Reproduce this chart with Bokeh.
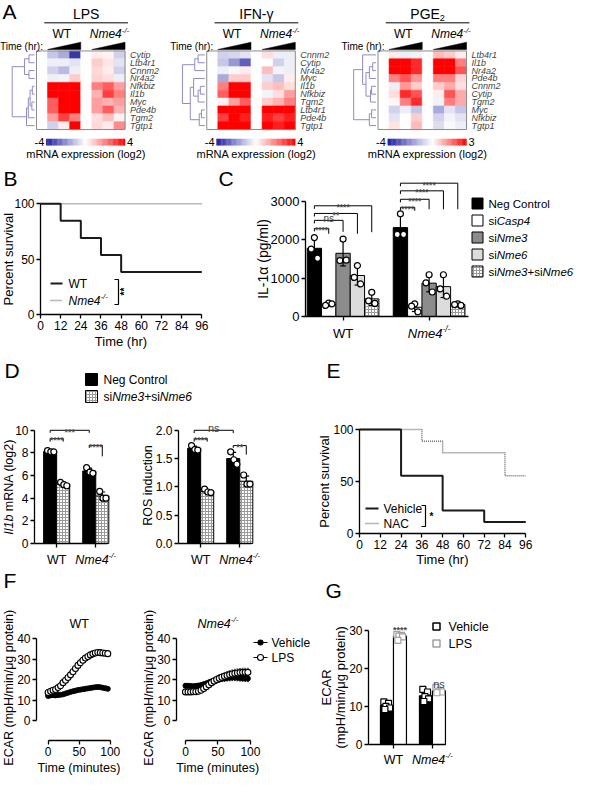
import math
import numpy as np
from bokeh.plotting import figure
from bokeh.models import (Range1d, Label, FixedTicker, ColumnDataSource,
                          NumeralTickFormatter, LinearColorMapper)
from bokeh.layouts import column, row
from bokeh.embed import file_html
from bokeh.resources import INLINE

FONT = "Liberation Sans"

# ---------------------------------------------------------------- data
# Panel A : log2 expression, columns = WT 0h,t1,t2,t3 | Nme4-/- 0h,t1,t2,t3
A_titles = ["LPS", "IFN-γ", "PGE2"]
A_limits = [(-4, 4), (-4, 4), (-4, 3)]
A_genes = [
    ["Cytip", "Ltb4r1", "Cnnm2", "Nr4a2", "Nfkbiz", "Il1b", "Myc", "Pde4b", "Tgm2", "Tgtp1"],
    ["Cnnm2", "Cytip", "Nr4a2", "Myc", "Il1b", "Nfkbiz", "Tgm2", "Ltb4r1", "Pde4b", "Tgtp1"],
    ["Ltb4r1", "Il1b", "Nr4a2", "Pde4b", "Cnnm2", "Cytip", "Tgm2", "Myc", "Nfkbiz", "Tgtp1"],
]
lps_expr = [
    [0, -1.0, -1.5, -3.5, 0, 0.3, 0.2, -0.8],
    [0, -0.3, -0.3, -0.5, 0, 0.8, 0.4, -0.5],
    [0, -0.8, -1.2, -0.3, 0, 0.6, 0.3, -0.8],
    [0, -0.3, -0.2, 0.8, 0, 0.7, 0.5, -0.3],
    [0, 4.0, 4.0, 4.0, 0, 2.0, 2.5, 1.5],
    [0, 4.0, 4.0, 4.0, 0, 1.2, 3.0, 2.0],
    [0, 2.5, 4.0, 4.0, 0, 1.5, 1.2, 1.5],
    [0, 2.5, 4.0, 4.0, 0, 1.5, 2.5, 1.2],
    [0, 1.5, 3.0, 2.0, 0, 0.5, 1.0, 0.2],
    [0, -0.8, 0.3, 4.0, 0, 0.6, 0.3, 1.8],
]
ifn_expr = [
    [0, -0.8, -0.7, -0.5, 0, 0.5, -0.3, -0.3],
    [0, -1.0, -1.8, -2.8, 0, 0.0, -0.8, -0.3],
    [0, -0.3, -0.1, 0.3, 0, 1.0, -0.2, -0.3],
    [0, -1.5, 0.8, 0.8, 0, -0.5, -1.0, 0.3],
    [0, 2.0, 4.0, 4.0, 0, 0.8, 1.0, 0.5],
    [0, 2.5, 4.0, 4.0, 0, -0.2, 0.5, 1.5],
    [0, 0.2, 1.5, 2.5, 0, 0.8, 1.2, 2.0],
    [0, 4.0, 4.0, 4.0, 0, 4.0, 4.0, 4.0],
    [0, 3.0, 4.0, 3.5, 0, 3.5, 3.0, 3.5],
    [0, 4.0, 4.0, 4.0, 0, 4.0, 3.5, 4.0],
]
pge_expr = [
    [0, 0.2, -0.3, -0.2, 0, 0.8, 0.6, 0.2],
    [0, 3.0, 3.0, 2.5, 0, 3.0, 3.0, 1.5],
    [0, 3.0, 3.0, 2.5, 0, 3.0, 3.0, 2.0],
    [0, 1.5, 2.0, 1.2, 0, 1.5, 1.5, 0.5],
    [0, -0.3, 1.2, 0.6, 0, 0.6, 1.0, 0.4],
    [0, 0.4, 2.5, 2.0, 0, 0.2, 2.0, 1.0],
    [0, 0.1, 1.5, 2.5, 0, -0.2, 1.5, 1.0],
    [0, -0.8, -0.3, -1.0, 0, -1.5, -0.5, -1.0],
    [0, -0.5, 0.0, 0.6, 0, -0.8, -0.2, -0.5],
    [0, 0.3, 0.0, 0.8, 0, -0.6, -0.1, -0.3],
]
A_expr = [lps_expr, ifn_expr, pge_expr]
# dendrogram merges (left id, right id, relative height); ids >= 10 are clusters
A_link = [
    [(0, 1, 0.25), (2, 3, 0.25), (10, 11, 0.45), (4, 5, 0.10), (6, 7, 0.12),
     (13, 14, 0.20), (15, 8, 0.28), (16, 9, 0.36), (12, 17, 1.0)],
    [(0, 1, 0.30), (10, 2, 0.45), (4, 5, 0.20), (12, 6, 0.30), (3, 13, 0.50),
     (7, 8, 0.15), (15, 9, 0.25), (14, 16, 0.65), (11, 17, 1.0)],
    [(1, 2, 0.15), (10, 3, 0.30), (4, 5, 0.20), (12, 6, 0.25), (11, 13, 0.45),
     (0, 14, 0.60), (7, 8, 0.20), (16, 9, 0.30), (15, 17, 1.0)],
]

# Panel B : survival (%)
b_wt_time = [0, 12, 24, 36, 48, 96]
b_wt_surv = [100, 84.6, 69.2, 53.8, 38.5, 38.5]
b_ko_time = [0, 96]
b_ko_surv = [100, 100]

# Panel C : IL-1a (pg/ml)
c_labels = ["Neg Control", "siCasp4", "siNme3", "siNme6", "siNme3+siNme6"]
c_mean_wt = [1780, 320, 1650, 1070, 460]
c_sd_wt = [290, 50, 330, 250, 170]
c_pts_wt = [[2060, 1760, 1520], [350, 290, 330], [2020, 1460, 1470], [1330, 1020, 850], [630, 410, 340]]
c_mean_ko = [2320, 240, 870, 780, 310]
c_sd_ko = [330, 110, 225, 285, 30]
c_pts_ko = [[2680, 2140, 2140], [330, 270, 120], [1090, 880, 640], [1090, 720, 530], [330, 310, 290]]
# (left bar, right bar, level, left end, right end, label)
c_sig = [
    (0, 1, 2300, 2220, 2160, "****"), (0, 2, 2510, 2430, 2210, "ns"),
    (0, 3, 2690, 2610, 2160, "**"), (0, 4, 2890, 2810, 2200, "****"),
    (6, 7, 2850, 2770, 2760, "****"), (6, 8, 3060, 2980, 2800, "****"),
    (6, 9, 3280, 3200, 2800, "****"), (6, 10, 3480, 3400, 2800, "****"),
]

# Panel D : Il1b mRNA (log2) and ROS induction
d1_mean = [8.13, 5.23, 6.40, 4.20]
d1_sd = [0.06, 0.15, 0.26, 0.35]
d1_pts = [[8.2, 8.1, 8.1], [5.4, 5.2, 5.1], [6.7, 6.3, 6.2], [4.6, 4.0, 4.0]]
d1_sig = [(0, 1, 9.26, 9.0, 9.0, "****"), (0, 3, 10.0, 9.78, 9.78, "***"), (3, 4, 8.67, 8.45, 7.7, "****")]
d2_mean = [1.68, 0.92, 1.50, 1.10]
d2_sd = [0.04, 0.03, 0.11, 0.09]
d2_pts = [[1.73, 1.66, 1.65], [0.96, 0.91, 0.90], [1.62, 1.48, 1.40], [1.21, 1.05, 1.05]]
d2_sig = [(0, 1, 1.85, 1.80, 1.80, "****"), (0, 3, 2.0, 1.95, 1.95, "ns"), (3, 4, 1.73, 1.69, 1.57, "**")]

# Panel E : survival (%)
e_veh_time = [0, 24, 48, 72, 96]
e_veh_surv = [100, 55.6, 22.2, 11.1, 11.1]
e_nac_time = [0, 36, 48, 84, 96]
e_nac_surv = [100, 88.9, 77.8, 55.6, 55.6]

# Panel F : ECAR time course
f_time = [0, 4, 8, 12, 16, 20, 24, 28, 32, 36, 40, 44, 48, 52, 56, 60, 64, 68, 72, 76, 80, 84, 88, 92, 96]
f_wt_veh = [12.0, 12.3, 12.4, 12.3, 12.5, 12.6, 12.8, 13.2, 13.6, 14.0, 14.3, 14.6, 14.9, 15.1, 15.3,
            15.5, 15.7, 15.9, 16.1, 16.3, 16.4, 16.3, 16.0, 15.8, 15.5]
f_wt_veh_sd = [0.5, 0.4, 0.4, 0.4, 0.4, 0.4, 0.4, 0.4, 0.5, 0.5, 0.5, 0.5, 0.5, 0.5, 0.5,
               0.5, 0.5, 0.5, 0.5, 0.5, 0.5, 0.5, 0.5, 0.5, 0.5]
f_wt_lps = [13.7, 14.3, 14.8, 15.2, 16.1, 17.0, 18.5, 19.7, 21.0, 22.3, 23.8, 25.4, 26.9, 28.2, 29.4,
            30.5, 31.2, 32.0, 32.5, 32.9, 33.2, 33.1, 32.9, 32.8, 32.6]
f_wt_lps_sd = [0.6, 0.6, 0.6, 0.6, 0.6, 0.7, 0.7, 0.8, 0.8, 0.8, 0.9, 0.9, 0.9, 0.9, 0.9,
               0.9, 0.9, 0.9, 0.9, 0.9, 0.9, 0.9, 0.9, 0.9, 0.9]
f_ko_veh = [17.0, 17.0, 16.9, 16.8, 16.9, 17.1, 17.3, 17.7, 18.1, 18.6, 19.0, 19.4, 19.8, 20.1, 20.4,
            20.6, 20.8, 20.9, 21.0, 21.0, 20.9, 20.8, 20.7, 20.6, 20.5]
f_ko_veh_sd = [0.8, 0.8, 0.8, 0.9, 0.9, 1.0, 1.0, 1.1, 1.2, 1.2, 1.3, 1.3, 1.4, 1.4, 1.4,
               1.5, 1.5, 1.5, 1.5, 1.5, 1.5, 1.5, 1.5, 1.5, 1.5]
f_ko_lps = [14.0, 14.0, 14.0, 14.1, 14.1, 14.3, 14.8, 15.6, 16.5, 17.5, 18.5, 19.3, 20.0, 20.6, 21.1,
            21.6, 22.0, 22.4, 22.7, 23.0, 23.2, 23.4, 23.5, 23.5, 23.5]
f_ko_lps_sd = [0.8, 0.8, 0.9, 0.9, 1.0, 1.0, 1.1, 1.2, 1.3, 1.4, 1.5, 1.6, 1.7, 1.8, 1.8,
               1.9, 1.9, 2.0, 2.0, 2.0, 2.0, 2.0, 2.0, 2.0, 2.0]

# Panel G : ECAR bars (WT vehicle, WT LPS, Nme4 vehicle, Nme4 LPS)
g_mean = [10.2, 28.5, 12.8, 14.1]
g_sd = [0.8, 0.6, 1.2, 0.5]
g_pts = [[11.2, 10.8, 10.0, 9.6, 9.2], [28.9, 28.7, 28.5, 28.3, 27.4],
         [14.5, 13.8, 12.6, 12.0, 11.3], [15.0, 14.2, 14.0, 13.8, 13.6]]

# ---------------------------------------------------------------- helpers
AW = {' ': 278, '!': 278, '(': 333, ')': 333, '*': 389, '+': 584, ',': 278, '-': 333, '.': 278,
      '/': 278, ':': 278, 'A': 667, 'B': 667, 'C': 722, 'D': 722, 'E': 667, 'F': 611, 'G': 778,
      'H': 722, 'I': 278, 'L': 556, 'M': 833, 'N': 722, 'P': 667, 'R': 722, 'S': 667, 'T': 611,
      'W': 944, 'Y': 667, 'a': 556, 'b': 556, 'c': 500, 'd': 556, 'e': 556, 'f': 278, 'g': 556,
      'h': 556, 'i': 222, 'j': 222, 'k': 500, 'l': 222, 'm': 833, 'n': 556, 'o': 556, 'p': 556,
      'q': 556, 'r': 333, 's': 500, 't': 278, 'u': 556, 'v': 500, 'w': 722, 'x': 500, 'y': 500,
      'z': 500, 'μ': 576, 'γ': 500, 'α': 578}


def tw(s, size):
    return sum(AW.get(ch, 556) for ch in s) * size / 1000.0


class Fig:
    """Figure whose frame covers the whole canvas; (l, r, t, b) describe the
    plotting area that (xr, yr) map onto. Axes are fixed at the edges of that
    area so that every text lies inside the frame."""

    def __init__(self, w, h, l, r, t, b, xr, yr, axes=True):
        self.w, self.h, self.l, self.r, self.t, self.b = w, h, l, r, t, b
        self.xr, self.yr = xr, yr
        self.fw = w - l - r
        self.fh = h - t - b
        ux = (xr[1] - xr[0]) / self.fw
        uy = (yr[1] - yr[0]) / self.fh
        X = (xr[0] - l * ux, xr[1] + r * ux)
        Y = (yr[0] - b * uy, yr[1] + t * uy)
        kw = dict(width=w, height=h, min_border=0, min_border_left=0, min_border_right=0,
                  min_border_top=0, min_border_bottom=0,
                  x_range=Range1d(*X), y_range=Range1d(*Y),
                  output_backend="svg", toolbar_location=None)
        if not axes:
            kw.update(x_axis_type=None, y_axis_type=None)
        p = figure(**kw)
        p.outline_line_color = None
        p.background_fill_color = "white"
        p.border_fill_color = "white"
        if axes:
            p.xgrid.visible = False
            p.ygrid.visible = False
            p.xaxis.fixed_location = yr[0]
            p.yaxis.fixed_location = xr[0]
        self.p = p

    def d(self, cx, cy):
        x = self.xr[0] + (cx - self.l) / self.fw * (self.xr[1] - self.xr[0])
        y = self.yr[1] - (cy - self.t) / self.fh * (self.yr[1] - self.yr[0])
        return x, y

    def cx(self, x):
        return self.l + (x - self.xr[0]) / (self.xr[1] - self.xr[0]) * self.fw

    def cy(self, y):
        return self.t + (self.yr[1] - y) / (self.yr[1] - self.yr[0]) * self.fh

    def dy(self, px):
        return px / self.fh * abs(self.yr[1] - self.yr[0])


def rich(F, cx, cy, segs, size, align="left", vertical=False, color="black"):
    items = []
    for seg in segs:
        text = seg[0]
        st = seg[1] if len(seg) > 1 else ""
        small = ("sup" in st) or ("sub" in st)
        fs = size * 0.65 if small else size
        rise = size * 0.36 if "sup" in st else (-size * 0.28 if "sub" in st else 0.0)
        style = "italic" if st.startswith("i") else "normal"
        if "B" in st:
            style = "bold"
        items.append((text, fs, rise, style, tw(text, fs)))
    total = sum(it[4] for it in items)
    off = {"left": 0.0, "center": -total / 2.0, "right": -total}[align]
    for text, fs, rise, style, w in items:
        lead = len(text) - len(text.lstrip(" "))
        shift = tw(" " * lead, fs)
        body = text.strip(" ")
        o = off + shift
        if vertical:
            px, py, ang = cx - rise, cy - o, math.pi / 2
        else:
            px, py, ang = cx + o, cy - rise, 0.0
        x, y = F.d(px, py)
        F.p.add_layout(Label(x=x, y=y, text=body, text_font=FONT, text_font_size=f"{fs:.1f}px",
                             text_font_style=style, text_color=color, text_align="left",
                             text_baseline="middle", angle=ang))
        off += w


def style_axes(F, xticks, yticks, xb=None, yb=None, lab=12):
    p = F.p
    for ax in list(p.xaxis) + list(p.yaxis):
        ax.axis_line_color = "black"
        ax.axis_line_width = 1.3
        ax.major_tick_line_color = "black"
        ax.major_tick_line_width = 1.3
        ax.major_tick_out = 4
        ax.major_tick_in = 0
        ax.minor_tick_line_color = None
        ax.major_label_text_font = FONT
        ax.major_label_text_font_size = f"{lab}px"
        ax.major_label_text_color = "black"
        ax.major_label_standoff = 2
    p.xaxis.ticker = FixedTicker(ticks=xticks)
    p.yaxis.ticker = FixedTicker(ticks=yticks)
    if xb is not None:
        p.xaxis.bounds = xb
    if yb is not None:
        p.yaxis.bounds = yb


def letter(F, cx, cy, s):
    rich(F, cx, cy, [(s, "")], 21)


def brackets(F, sig, size_star=8.5, size_ns=10):
    p = F.p
    for x1, x2, lev, e1, e2, lab in sig:
        p.line([x1, x1, x2, x2], [e1, lev, lev, e2], color="black", line_width=1)
        if lab.startswith("*"):
            p.add_layout(Label(x=(x1 + x2) / 2, y=lev - F.dy(1.5), text=lab, text_font=FONT,
                               text_font_size=f"{size_star}px", text_font_style="bold",
                               text_align="center", text_baseline="alphabetic"))
        else:
            p.add_layout(Label(x=(x1 + x2) / 2, y=lev + F.dy(2), text=lab, text_font=FONT,
                               text_font_size=f"{size_ns}px", text_align="center",
                               text_baseline="alphabetic"))


def errbars(p, xs, means, sds, cap, color="black", width=1.2):
    x0, y0, x1, y1 = [], [], [], []
    for x, m, s in zip(xs, means, sds):
        x0 += [x, x - cap, x - cap]
        x1 += [x, x + cap, x + cap]
        y0 += [m - s, m + s, m - s]
        y1 += [m + s, m + s, m - s]
    p.segment(x0, y0, x1, y1, color=color, line_width=width)


def make_palette(lo, hi, n=256):
    cols = []
    for i in range(n):
        v = lo + (hi - lo) * i / (n - 1)
        if v < 0:
            t = min(1.0, v / lo)
            r = int(255 - t * (255 - 28)); g = int(255 - t * (255 - 28)); b = int(255 - t * (255 - 160))
        else:
            t = min(1.0, v / hi)
            r = 255; g = int(255 * (1 - t)); b = int(255 * (1 - t))
        cols.append("#%02x%02x%02x" % (r, g, b))
    return cols


NME4 = [("Nme4", "i"), ("-/-", "isup")]

# ---------------------------------------------------------------- Panel A
FA = Fig(575, 163, 0, 0, 0, 0, (0, 591), (168, 0), axes=False)
pa = FA.p
SX, SY = 575 / 591, 163 / 168


def ac(x, y):
    return x * SX, y * SY


HX0, HW, HY0, RH = 37, 91, 52, 8.1
CW = HW / 8
A_OFF = [0, 175, 351]
for k in range(3):
    ox = A_OFF[k]
    lo, hi = A_limits[k]
    mapper = LinearColorMapper(palette=make_palette(lo, hi), low=lo, high=hi)
    expr = A_expr[k]
    xs, ys, vs = [], [], []
    for r_ in range(10):
        for c_ in range(8):
            xs.append(ox + HX0 + (c_ + 0.5) * CW)
            ys.append(HY0 + (r_ + 0.5) * RH)
            vs.append(expr[r_][c_])
    src = ColumnDataSource(dict(x=xs, y=ys, v=vs))
    pa.rect("x", "y", width=CW, height=RH, source=src,
            fill_color={"field": "v", "transform": mapper},
            line_color={"field": "v", "transform": mapper}, line_width=0.6)
    pa.rect(x=ox + HX0 + HW / 2, y=HY0 + 5 * RH, width=HW, height=10 * RH,
            fill_color=None, line_color="#8c8c8c", line_width=1)
    for r_, g in enumerate(A_genes[k]):
        pa.add_layout(Label(x=ox + 133, y=HY0 + (r_ + 0.5) * RH, text=g, text_font=FONT,
                            text_font_size="9px", text_font_style="italic",
                            text_align="left", text_baseline="middle"))
    # dendrogram
    pos = {i: (ox + 35, HY0 + (i + 0.5) * RH) for i in range(10)}
    x0s, y0s, x1s, y1s = [], [], [], []
    nid = 10
    for a, b, h in A_link[k]:
        xh = ox + 35 - h * (35 - 12)
        xa, ya = pos[a]
        xb, yb = pos[b]
        x0s += [xa, xb, xh]; y0s += [ya, yb, ya]
        x1s += [xh, xh, xh]; y1s += [ya, yb, yb]
        pos[nid] = (xh, (ya + yb) / 2)
        nid += 1
    pa.segment(x0s, y0s, x1s, y1s, color="#8f8bc8", line_width=1)
    # time ramps
    tx, ty = [], []
    for g0 in (1, 5):
        xl = ox + HX0 + g0 * CW
        xr_ = ox + HX0 + (g0 + 3) * CW
        tx.append([xl, xr_, xr_]); ty.append([50.5, 50.5, 43])
    pa.patches(tx, ty, fill_color="black", line_color="black", line_width=0.5)
    # colour bar
    n = 64
    cbx = [ox + 47 + (i + 0.5) * 81 / n for i in range(n)]
    cbv = [lo + (hi - lo) * (i + 0.5) / n for i in range(n)]
    cbsrc = ColumnDataSource(dict(x=cbx, y=[146] * n, v=cbv))
    pa.rect("x", "y", width=81 / n + 0.3, height=7, source=cbsrc,
            fill_color={"field": "v", "transform": mapper}, line_color=None)
    title = [("PGE", ""), ("2", "sub")] if k == 2 else [(A_titles[k], "")]
    rich(FA, *ac(ox + 88, 14), title, 14, align="center")
    pa.segment(ox + 45, 23, ox + 131, 23, color="black", line_width=1)
    rich(FA, *ac(ox + 63, 35), [("WT", "")], 12, align="center")
    rich(FA, *ac(ox + 112, 35), NME4, 12, align="center")
    rich(FA, *ac(ox + 44, 47), [("Time (hr):", "")], 10, align="right")
    rich(FA, *ac(ox + 45, 146), [("-4", "")], 11, align="right")
    rich(FA, *ac(ox + 130, 146), [(str(hi), "")], 11, align="left")
    rich(FA, *ac(ox + 88, 158), [("mRNA expression (log2)", "")], 11, align="center")
letter(FA, 2, 11, "A")

# ---------------------------------------------------------------- Panel B
FB = Fig(210, 187, 40, 7, 37, 36, (0, 97), (0, 103))
pb = FB.p
style_axes(FB, [0, 12, 24, 36, 48, 60, 72, 84, 96], [0, 50, 100], xb=(0, 96), yb=(0, 100))
pb.line(b_ko_time, b_ko_surv, color="#707070", line_width=1.5, line_dash="1 1")
pb.step(b_wt_time, b_wt_surv, mode="after", color="#1a1a1a", line_width=2)
letter(FB, 3, 15, "B")
rich(FB, 8, FB.cy(50), [("Percent survival", "")], 13, align="center", vertical=True)
rich(FB, FB.cx(48), 178, [("Time (hr)", "")], 13, align="center")
for yy, dash, lab in [(120, "solid", [("WT", "")]), (137, "1 1", NME4)]:
    xa, ya = FB.d(50, yy)
    xb_, _ = FB.d(62, yy)
    pb.line([xa, xb_], [ya, ya], color="#1a1a1a" if dash == "solid" else "#707070",
            line_width=2 if dash == "solid" else 1.5, line_dash=dash)
    rich(FB, 68, yy, lab, 12)
bxy = [FB.d(114, 116), FB.d(118, 116), FB.d(118, 141), FB.d(114, 141)]
pb.line([q[0] for q in bxy], [q[1] for q in bxy], color="black", line_width=1.2)
rich(FB, 124, 128, [("**", "B")], 10, align="center", vertical=True)

# ---------------------------------------------------------------- Panel C
FC = Fig(365, 187, 95, 2, 17, 34, (-0.62, 18.07), (0, 3550))
pc = FC.p
style_axes(FC, [2, 8], [0, 1000, 2000, 3000], xb=(-0.62, 10.75), yb=(0, 3000), lab=13)
pc.xaxis.major_label_overrides = {2: "", 8: ""}
c_fill = ["black", "white", "#8c8c8c", "#dcdcdc", "white"]
for i in range(5):
    xs = [i, 6 + i]
    tops = [c_mean_wt[i], c_mean_ko[i]]
    if i == 4:
        pc.vbar(x=xs, top=tops, width=1, fill_color="white", line_color="black", line_width=1,
                hatch_pattern="+", hatch_color="#9a9a9a", hatch_scale=3, hatch_weight=1)
    else:
        pc.vbar(x=xs, top=tops, width=1, fill_color=c_fill[i], line_color="black", line_width=1)
bar_x = [0, 1, 2, 3, 4, 6, 7, 8, 9, 10]
errbars(pc, bar_x, c_mean_wt + c_mean_ko, c_sd_wt + c_sd_ko, 0.2)
jit = [0.0, -0.22, 0.22]
px_, py_ = [], []
for bx_, pts in zip(bar_x, c_pts_wt + c_pts_ko):
    for j, v in enumerate(pts):
        px_.append(bx_ + jit[j]); py_.append(v)
pc.scatter(px_, py_, marker="circle", size=6, fill_color="white", line_color="black", line_width=1.2)
brackets(FC, c_sig, size_star=8.5, size_ns=10)
letter(FC, 8, 15, "C")
rich(FC, 52, FC.cy(1500), [("IL-1α (pg/ml)", "")], 14, align="center", vertical=True)
for gx, lab in [(2, [("WT", "")]), (8, NME4)]:
    rich(FC, FC.cx(gx), 170, lab, 13, align="center")
for i in range(5):
    x, y = FC.d(267, 40 + 17 * i)
    if i == 4:
        pc.scatter([x], [y], marker="square", size=11, fill_color="white", line_color="black",
                   hatch_pattern="+", hatch_color="#9a9a9a", hatch_scale=3)
    else:
        pc.scatter([x], [y], marker="square", size=11, fill_color=c_fill[i], line_color="black")
segs_c = [[("Neg Control", "")], [("si", ""), ("Casp4", "i")], [("si", ""), ("Nme3", "i")],
          [("si", ""), ("Nme6", "i")], [("si", ""), ("Nme3", "i"), ("+si", ""), ("Nme6", "i")]]
for i, sg in enumerate(segs_c):
    rich(FC, 278, 40 + 17 * i, sg, 11.5)

# ---------------------------------------------------------------- Panel D
FDt = Fig(290, 66, 0, 0, 0, 0, (0, 290), (66, 0), axes=False)
pdt = FDt.p
letter(FDt, 4, 20, "D")
pdt.scatter([91], [29], marker="square", size=12, fill_color="black", line_color="black")
pdt.scatter([91], [46], marker="square", size=12, fill_color="white", line_color="black",
            hatch_pattern="+", hatch_color="#9a9a9a", hatch_scale=3)
rich(FDt, 103, 29, [("Neg Control", "")], 12)
rich(FDt, 103, 46, [("si", ""), ("Nme3", "i"), ("+si", ""), ("Nme6", "i")], 12)


def dpanel(F, mean, sd, pts, sig, yticks, ybound):
    p = F.p
    style_axes(F, [0.5, 3.5], yticks, xb=(-1.2, 4.4), yb=ybound)
    p.xaxis.major_label_overrides = {0.5: "", 3.5: ""}
    p.vbar(x=[0, 3], top=[mean[0], mean[2]], width=1, fill_color="black", line_color="black")
    p.vbar(x=[1, 4], top=[mean[1], mean[3]], width=1, fill_color="white", line_color="black",
           hatch_pattern="+", hatch_color="#9a9a9a", hatch_scale=3)
    errbars(p, [0, 1, 3, 4], mean, sd, 0.22)
    xs, ys = [], []
    for bx_, pp in zip([0, 1, 3, 4], pts):
        for j, v in enumerate(pp):
            xs.append(bx_ + [-0.2, 0.05, 0.28][j]); ys.append(v)
    p.scatter(xs, ys, marker="circle", size=6, fill_color="white", line_color="black", line_width=1.2)
    brackets(F, sig, size_star=9, size_ns=11)
    for gx, lab in [(0.5, [("WT", "")]), (3.5, NME4)]:
        rich(F, F.cx(gx), 143, lab, 12.5, align="center")


FD1 = Fig(140, 152, 34, 33, 7, 25, (-1.2, 4.4), (0, 10.6))
dpanel(FD1, d1_mean, d1_sd, d1_pts, d1_sig, [0, 2, 4, 6, 8, 10], (0, 10))
rich(FD1, 8, FD1.cy(5), [("Il1b", "i"), (" mRNA (log2)", "")], 12.5, align="center", vertical=True)

FD2 = Fig(150, 152, 38, 39, 7, 25, (-1.2, 4.4), (0, 2.12))
dpanel(FD2, d2_mean, d2_sd, d2_pts, d2_sig, [0, 0.5, 1.0, 1.5, 2.0], (0, 2.0))
FD2.p.yaxis.formatter = NumeralTickFormatter(format="0.0")
rich(FD2, 7, FD2.cy(1.0), [("ROS induction", "")], 12.5, align="center", vertical=True)

# ---------------------------------------------------------------- Panel E
FE = Fig(285, 218, 69, 48, 76, 35, (0, 97), (0, 103))
pe = FE.p
style_axes(FE, [0, 12, 24, 36, 48, 60, 72, 84, 96], [0, 50, 100], xb=(0, 96), yb=(0, 100))
pe.step(e_nac_time, e_nac_surv, mode="after", color="#707070", line_width=1.5, line_dash="1 1")
pe.step(e_veh_time, e_veh_surv, mode="after", color="#1a1a1a", line_width=2)
letter(FE, 36, 20, "E")
rich(FE, 34, FE.cy(50), [("Percent survival", "")], 13, align="center", vertical=True)
rich(FE, FE.cx(48), 209, [("Time (hr)", "")], 13, align="center")
for yy, dash, lab in [(158, "solid", "Vehicle"), (173, "1 1", "NAC")]:
    xa, ya = FE.d(75, yy)
    xb_, _ = FE.d(88, yy)
    pe.line([xa, xb_], [ya, ya], color="#1a1a1a" if dash == "solid" else "#707070",
            line_width=2 if dash == "solid" else 1.5, line_dash=dash)
    rich(FE, 93, yy, [(lab, "")], 12)
exy = [FE.d(131, 155), FE.d(135, 155), FE.d(135, 176), FE.d(131, 176)]
pe.line([q[0] for q in exy], [q[1] for q in exy], color="black", line_width=1.2)
rich(FE, 139, 166, [("*", "B")], 10)

# ---------------------------------------------------------------- Panel F
FY = (-9.64, 40.95)


def fpanel(F, veh, veh_sd, lps, lps_sd):
    p = F.p
    style_axes(F, [0, 50, 100], [0, 10, 20, 30, 40], xb=(0, 100), yb=(0, 40))
    errbars(p, f_time, veh, veh_sd, 1.4, color="#333333", width=1)
    errbars(p, f_time, lps, lps_sd, 1.4, color="#555555", width=1)
    p.line(f_time, veh, color="black", line_width=1)
    p.line(f_time, lps, color="black", line_width=1)
    p.scatter(f_time, veh, marker="circle", size=5, fill_color="black", line_color="black")
    p.scatter(f_time, lps, marker="circle", size=6, fill_color="white", line_color="black", line_width=1.1)
    rich(F, 8, F.cy(16), [("ECAR (mpH/min/μg protein)", "")], 12.5, align="center", vertical=True)
    rich(F, F.cx(50), 199, [("Time (minutes)", "")], 12.5, align="center")


FF1 = Fig(140, 208, 36, 29, 68, 36, (-18.75, 102), FY)
fpanel(FF1, f_wt_veh, f_wt_veh_sd, f_wt_lps, f_wt_lps_sd)
letter(FF1, 3, 12, "F")
rich(FF1, FF1.cx(50), 55, [("WT", "")], 12.5, align="center")

FF2 = Fig(175, 208, 36, 2, 68, 36, (-13.8, 197), FY)
fpanel(FF2, f_ko_veh, f_ko_veh_sd, f_ko_lps, f_ko_lps_sd)
rich(FF2, FF2.cx(50), 55, NME4, 12.5, align="center")
pf2 = FF2.p
for yy, filled, lab in [(74, True, "Vehicle"), (89, False, "LPS")]:
    xa, ya = FF2.d(113, yy)
    xb_, _ = FF2.d(127, yy)
    xm, _ = FF2.d(120, yy)
    pf2.line([xa, xb_], [ya, ya], color="black", line_width=1)
    pf2.scatter([xm], [ya], marker="circle", size=5 if filled else 6,
                fill_color="black" if filled else "white", line_color="black", line_width=1.1)
    rich(FF2, 131, yy, [(lab, "")], 12)

# ---------------------------------------------------------------- Panel G
FG = Fig(260, 208, 53, 2, 52, 32, (-1.42, 14.35), (0, 32.6))
pg = FG.p
style_axes(FG, [0.5, 3.5], [0, 10, 20, 30], xb=(-1.42, 4.5), yb=(0, 30))
pg.xaxis.major_label_overrides = {0.5: "", 3.5: ""}
pg.vbar(x=[0, 1, 3, 4], top=g_mean, width=1, fill_color=["black", "white", "black", "white"],
        line_color="black", line_width=1.2)
errbars(pg, [0, 1, 3, 4], g_mean, g_sd, 0.2)
gx, gy, gc = [], [], []
for bi, (bx_, pp) in enumerate(zip([0, 1, 3, 4], g_pts)):
    for j, v in enumerate(pp):
        gx.append(bx_ + [-0.24, 0.12, -0.08, 0.2, -0.16][j]); gy.append(v)
        gc.append("black" if bi % 2 == 0 else "#a0a0a0")
pg.scatter(gx, gy, marker="square", size=6, fill_color="white", line_color=gc, line_width=1.2)
pg.add_layout(Label(x=1, y=30.1, text="****", text_font=FONT, text_font_size="9px",
                    text_font_style="bold", text_align="center", text_baseline="alphabetic"))
pg.add_layout(Label(x=4, y=15.8, text="ns", text_font=FONT, text_font_size="11px",
                    text_align="center", text_baseline="alphabetic"))
letter(FG, 10, 22, "G")
rich(FG, 11, FG.cy(15), [("ECAR", "")], 13, align="center", vertical=True)
rich(FG, 25, FG.cy(15), [("(mpH/min/μg protein)", "")], 13, align="center", vertical=True)
for gx_, lab in [(0.5, [("WT", "")]), (3.5, NME4)]:
    rich(FG, FG.cx(gx_), 191, lab, 12.5, align="center")
for yy, col, lab in [(58, "black", "Vehicle"), (75, "#a0a0a0", "LPS")]:
    x, y = FG.d(121, yy)
    pg.scatter([x], [y], marker="square", size=7, fill_color="white", line_color=col, line_width=1.5)
    rich(FG, 133, yy, [(lab, "")], 12.5)

# ---------------------------------------------------------------- layout
layout = column(
    FA.p,
    row(FB.p, FC.p),
    row(column(FDt.p, row(FD1.p, FD2.p)), FE.p),
    row(FF1.p, FF2.p, FG.p),
)

open("out.html", "w").write(file_html(layout, INLINE))
